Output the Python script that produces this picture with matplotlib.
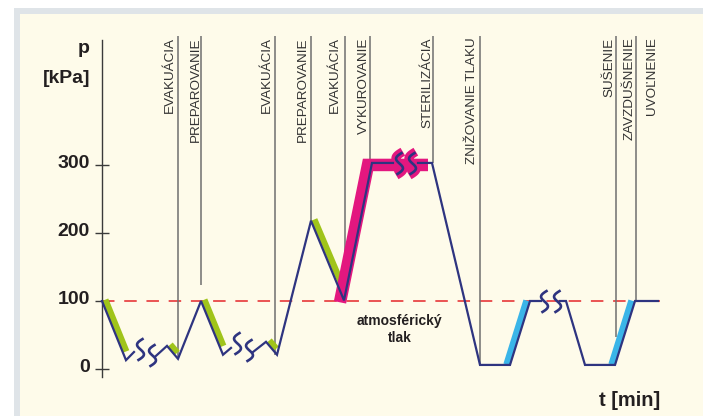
import numpy as np
import matplotlib
matplotlib.use('Agg')
import matplotlib.pyplot as plt
from matplotlib.path import Path
from matplotlib.patches import Rectangle
from matplotlib.transforms import ScaledTranslation

# ---------------- data (time: arbitrary units, pressure: kPa) ----------------
y_ticks = [0, 100, 200, 300]
atm_pressure = 100
t_end = 55.8

seg1_t = [0.0, 2.4, 3.2]
seg1_p = [100, 13, 25]
seg2_t = [5.3, 6.5, 7.6, 9.9, 12.1, 12.9]
seg2_p = [18, 34, 15, 100, 21, 31]
seg3_t = [15.1, 16.4, 17.5, 20.9, 24.2, 27.0, 29.1]
seg3_p = [25, 40, 21, 218, 101, 303, 303]
seg4_t = [31.6, 33.0, 37.8, 40.8, 42.8, 43.9]
seg4_p = [303, 303, 6, 6, 100, 100]
seg5_t = [45.8, 46.4, 48.3, 51.3, 53.3, 55.6]
seg5_p = [100, 100, 6, 6, 100, 100]

break_t = [3.8, 5.0, 13.5, 14.7, 29.7, 31.0, 44.2, 45.5]
break_p = [29, 21, 38, 28, 303, 303, 100, 100]
sterile_break_t = [29.7, 31.0]
sterile_break_p = [303, 303]

green_t = [[0.0, 2.1], [6.5, 7.2], [9.9, 11.8], [16.4, 17.1], [20.9, 23.9]]
green_p = [[100, 24], [34, 22], [100, 32], [40, 28], [218, 114]]

magenta_t = [24.2, 27.0, 33.0]
magenta_p = [101, 303, 303]

cyan_t = [[40.8, 42.8], [51.3, 53.3]]
cyan_p = [[6, 100], [6, 100]]

phase_labels = ['EVAKUÁCIA', 'PREPAROVANIE', 'EVAKUÁCIA', 'PREPAROVANIE',
                'EVAKUÁCIA', 'VYKUROVANIE', 'STERILIZÁCIA', 'ZNIŽOVANIE TLAKU',
                'SUŠENIE', 'ZAVZDUŠNENIE', 'UVOĽNENIE']
phase_line_t = [7.6, 9.9, 17.3, 20.9, 24.3, 26.8, 33.1, 37.8, 51.4, 53.4]
phase_line_bottom = [15, 124, 21, 218, 101, 303, 303, 6, 47, 100]
phase_top = 489
phase_label_t = [7.1, 9.7, 16.8, 20.4, 23.6, 26.5, 32.8, 37.3, 51.0, 53.1, 55.3]

# ---------------- style ----------------
plt.rcParams['font.family'] = ['Liberation Sans', 'DejaVu Sans']
plt.rcParams['lines.scale_dashes'] = False
navy = '#2e3480'
green = '#a0c41a'
magenta = '#e3177f'
cyan = '#3ab5e8'
red = '#e4252a'
gray = '#6f6f6f'
txt = '#231f20'

fig = plt.figure(figsize=(7.03, 4.16), dpi=100)
fig.patch.set_facecolor('white')
W, H = 703, 416
fig.add_artist(Rectangle((14 / W, 0), 1, (H - 8) / H, transform=fig.transFigure,
                         facecolor='#dfe4e8', edgecolor='none', zorder=-10))
fig.add_artist(Rectangle((20 / W, 0), 1, (H - 14) / H, transform=fig.transFigure,
                         facecolor='#fefbea', edgecolor='none', zorder=-9))

ax = fig.add_axes([0, 0, 1, 1])
ax.patch.set_alpha(0)
ax.set_xlim(-10.2, 60.1)
ax.set_ylim(-69.1, 542.6)


def off(dx, dy):
    return ax.transData + ScaledTranslation(dx / 100, dy / 100, fig.dpi_scale_trans)


# axis
for s in ['top', 'right', 'bottom']:
    ax.spines[s].set_visible(False)
ax.spines['left'].set_position(('data', 0))
ax.spines['left'].set_bounds(-11.8, 483.8)
ax.spines['left'].set_color('#3a3a3a')
ax.spines['left'].set_linewidth(1.0)
ax.set_xticks([])
ax.set_yticks(y_ticks)
ax.set_yticklabels([''] * len(y_ticks))
ax.tick_params(axis='y', direction='inout', length=9.5, width=1.0, color='#3a3a3a')
for v in y_ticks:
    ax.text(0, v, str(v), transform=off(-12, -3), ha='right', va='baseline',
            fontsize=14, fontweight='bold', color=txt)
ax.text(0, 464.7, 'p', transform=off(-12, 0), ha='right', va='baseline',
        fontsize=14, fontweight='bold', color=txt)
ax.text(0, 420.6, '[kPa]', transform=off(-12, 0), ha='right', va='baseline',
        fontsize=14, fontweight='bold', color=txt)
ax.text(t_end, -54.4, 't [min]', ha='right', va='baseline',
        fontsize=14.5, fontweight='bold', color=txt)
ax.text(29.75, 64.7, 'atmosférický', ha='center', va='baseline',
        fontsize=10, fontweight='bold', color=txt)
ax.text(29.75, 39.7, 'tlak', ha='center', va='baseline',
        fontsize=10, fontweight='bold', color=txt)

# atmospheric pressure line
ax.plot([0, t_end], [atm_pressure, atm_pressure], color=red, lw=1.1,
        linestyle=(0, (9, 7)), zorder=1)

# phase marker lines and labels
ax.vlines(phase_line_t, phase_line_bottom, phase_top, color=gray, lw=1.1, zorder=1)
for lab, t in zip(phase_labels, phase_label_t):
    ax.text(t, phase_top - 1.5, lab, rotation=90, rotation_mode='anchor',
            ha='right', va='baseline', fontsize=9.7, color='#333333')

# highlights
for t, p in zip(green_t, green_p):
    ax.plot(t, p, color=green, lw=4.6, solid_capstyle='butt',
            transform=off(3.3, 1.3), zorder=2)
for t, p in zip(cyan_t, cyan_p):
    ax.plot(t, p, color=cyan, lw=4.6, solid_capstyle='butt',
            transform=off(-3.5, 0.5), zorder=2)
ax.plot(magenta_t, magenta_p, color=magenta, lw=9, solid_capstyle='butt',
        solid_joinstyle='miter', transform=off(-4.0, -2.0), zorder=2)

# break symbol
s = np.linspace(-1, 1, 41)
sq = Path(np.column_stack([0.14 * s - 0.22 * np.sin(np.pi * s), 0.5 * s]))
ax.plot(sterile_break_t, sterile_break_p, ls='none', marker=sq, ms=17,
        mec=magenta, mfc='none', mew=6.5, zorder=3)

# main pressure curve
for t, p in [(seg1_t, seg1_p), (seg2_t, seg2_p), (seg3_t, seg3_p),
             (seg4_t, seg4_p), (seg5_t, seg5_p)]:
    ax.plot(t, p, color=navy, lw=1.6, solid_joinstyle='miter', zorder=4)
ax.plot(break_t, break_p, ls='none', marker=sq, ms=16, mec=navy, mfc='none',
        mew=1.9, zorder=5)

fig.savefig('out.png', dpi=100)
